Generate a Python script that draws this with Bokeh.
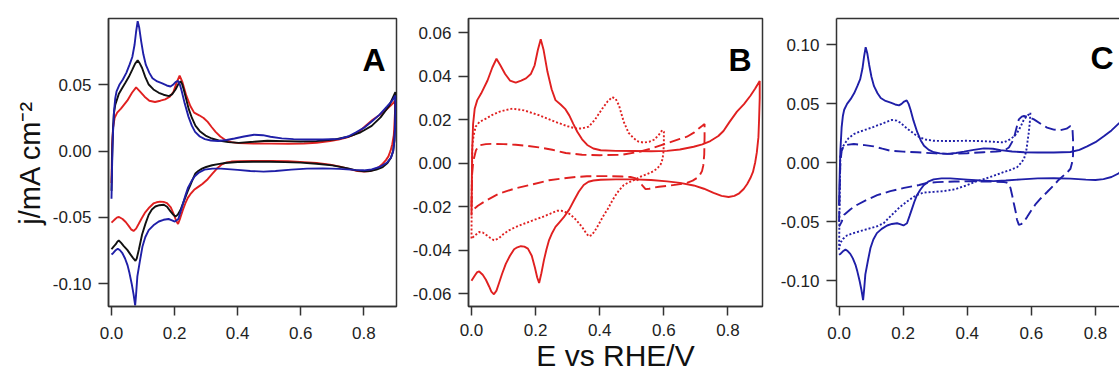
from bokeh.plotting import figure
from bokeh.layouts import row
from bokeh.models import Range1d, FixedTicker, NumeralTickFormatter, Label, LinearAxis
from bokeh.embed import file_html
from bokeh.resources import INLINE

FONT = "Liberation Sans"
RED = "#e02020"
BLUE = "#1f1fa8"
BLACK = "#111111"
LW = 1.9

# ---------------- data ----------------
x_ticks = [0.0, 0.2, 0.4, 0.6, 0.8]
yticks_A = [-0.10, -0.05, 0.0, 0.05]
yticks_B = [-0.06, -0.04, -0.02, 0.0, 0.02, 0.04, 0.06]
yticks_C = [-0.10, -0.05, 0.0, 0.05, 0.10]
panel_letters = ["A", "B", "C"]
x_label = "E vs RHE/V"
y_label = "j/mA cm\u207b\u00b2"

# red solid CV (0 - 0.9 V)
red_E = [0.000, 0.002, 0.005, 0.010, 0.018, 0.030, 0.050, 0.065, 0.078, 0.090, 0.105, 0.120, 0.138, 0.155,
         0.170, 0.185, 0.197, 0.207, 0.216, 0.225, 0.237, 0.250, 0.262, 0.278, 0.292, 0.305, 0.318, 0.330,
         0.345, 0.361, 0.380, 0.403, 0.450, 0.506, 0.560, 0.610, 0.650, 0.693, 0.720, 0.745, 0.770, 0.786,
         0.805, 0.828, 0.850, 0.870, 0.885, 0.899,
         0.899, 0.897, 0.895, 0.890, 0.885, 0.878, 0.870, 0.860, 0.849, 0.835, 0.820, 0.802, 0.780, 0.755,
         0.725, 0.693, 0.650, 0.610, 0.560, 0.506, 0.450, 0.403, 0.380, 0.365, 0.350, 0.335, 0.320, 0.305,
         0.288, 0.275, 0.262, 0.250, 0.242, 0.234, 0.226, 0.218, 0.211, 0.205, 0.198, 0.188, 0.176, 0.165,
         0.154, 0.143, 0.133, 0.120, 0.107, 0.095, 0.086, 0.078, 0.070, 0.062, 0.055, 0.045, 0.035, 0.024,
         0.018, 0.012, 0.005, 0.000]
red_j = [-0.024, 0.005, 0.018, 0.025, 0.029, 0.032, 0.038, 0.044, 0.048, 0.045, 0.041, 0.038, 0.037, 0.038,
         0.039, 0.041, 0.045, 0.052, 0.057, 0.052, 0.042, 0.034, 0.029, 0.027, 0.025, 0.022, 0.018, 0.0145,
         0.011, 0.0084, 0.0068, 0.0060, 0.0057, 0.0056, 0.0055, 0.0057, 0.0063, 0.0076, 0.0087, 0.0102, 0.0125, 0.0148,
         0.019, 0.0237, 0.0272, 0.031, 0.0343, 0.0378,
         0.030, 0.020, 0.012, 0.005, 0.0005, -0.004, -0.0068, -0.0095, -0.0118, -0.0138, -0.0150, -0.0155, -0.0150, -0.0136,
         -0.0117, -0.0102, -0.0090, -0.0083, -0.0077, -0.0074, -0.0074, -0.0076, -0.0079, -0.0085, -0.0100, -0.0130, -0.0170, -0.0212,
         -0.0248, -0.0270, -0.0292, -0.0325, -0.0353, -0.0395, -0.0445, -0.0505, -0.0550, -0.0525, -0.0480, -0.0425, -0.0392, -0.0383,
         -0.0381, -0.0386, -0.0395, -0.0425, -0.0462, -0.0510, -0.0550, -0.0585, -0.0602, -0.0590, -0.0566, -0.0535, -0.0512, -0.0497,
         -0.0500, -0.0512, -0.0528, -0.0540]

# red dotted CV (0 - 0.6 V)
red_dot_E = [0.000, 0.001, 0.003, 0.007, 0.013, 0.025, 0.045, 0.065, 0.086, 0.105, 0.128, 0.164, 0.210, 0.262,
             0.300, 0.325, 0.345, 0.366, 0.385, 0.408, 0.425, 0.439, 0.450, 0.460, 0.475, 0.490, 0.506, 0.520,
             0.537, 0.555, 0.569, 0.583, 0.595, 0.600,
             0.600, 0.599, 0.596, 0.590, 0.579, 0.563, 0.548, 0.527, 0.506, 0.490, 0.475, 0.460, 0.448, 0.439,
             0.425, 0.410, 0.397, 0.385, 0.375, 0.366, 0.357, 0.346, 0.335, 0.320, 0.305, 0.294, 0.280, 0.268,
             0.245, 0.219, 0.190, 0.160, 0.135, 0.117, 0.100, 0.085, 0.070, 0.058, 0.045, 0.035, 0.024, 0.012, 0.000]
red_dot_j = [-0.0346, -0.010, 0.0085, 0.0130, 0.0168, 0.0190, 0.0205, 0.0222, 0.0236, 0.0244, 0.0251, 0.0243, 0.0221, 0.0190,
             0.0170, 0.0160, 0.0160, 0.0168, 0.0200, 0.0251, 0.0285, 0.0304, 0.0295, 0.0266, 0.0190, 0.0140, 0.0115, 0.0100,
             0.0095, 0.0099, 0.0108, 0.0128, 0.0152, 0.0145,
             0.0100, 0.0055, 0.0020, -0.0005, -0.0025, -0.0040, -0.0050, -0.0062, -0.0078, -0.0088, -0.0100, -0.0125, -0.0150, -0.0172,
             -0.0210, -0.0245, -0.0280, -0.0310, -0.0330, -0.0336, -0.0320, -0.0295, -0.0275, -0.0250, -0.0232, -0.0225, -0.0218, -0.0218,
             -0.0232, -0.0248, -0.0263, -0.0280, -0.0295, -0.0308, -0.0325, -0.0345, -0.0354, -0.0342, -0.0328, -0.0318, -0.0316, -0.0330, -0.0346]

# red dashed CV (0 - 0.73 V)
red_dash_E = [0.000, 0.002, 0.005, 0.008, 0.014, 0.024, 0.045, 0.065, 0.100, 0.138, 0.175, 0.210, 0.252, 0.294,
              0.345, 0.400, 0.470, 0.527, 0.570, 0.610, 0.650, 0.672, 0.695, 0.709, 0.720, 0.727,
              0.727, 0.726, 0.723, 0.719, 0.712, 0.703, 0.690, 0.672, 0.640, 0.610, 0.585, 0.569, 0.555, 0.543,
              0.532, 0.522, 0.510, 0.496, 0.470, 0.430, 0.397, 0.360, 0.325, 0.285, 0.242, 0.190, 0.138, 0.086,
              0.045, 0.020, 0.008, 0.000]
red_dash_j = [-0.0200, -0.0050, 0.0000, 0.0024, 0.0060, 0.0082, 0.0088, 0.0089, 0.0088, 0.0085, 0.0080, 0.0073, 0.0062, 0.0047,
              0.0039, 0.0037, 0.0039, 0.0054, 0.0072, 0.0092, 0.0112, 0.0122, 0.0142, 0.0160, 0.0172, 0.0180,
              0.0120, 0.0040, -0.0010, -0.0036, -0.0055, -0.0068, -0.0080, -0.0090, -0.0098, -0.0104, -0.0108, -0.0112, -0.0117, -0.0119,
              -0.0100, -0.0081, -0.0068, -0.0063, -0.0061, -0.0059, -0.0059, -0.0060, -0.0063, -0.0070, -0.0078, -0.0097, -0.0115, -0.0139,
              -0.0172, -0.0195, -0.0210, -0.0220]

# black CV (panel A)
black_E = [0.000, 0.002, 0.004, 0.0074, 0.012, 0.023, 0.035, 0.044, 0.055, 0.066, 0.075, 0.083, 0.090, 0.097,
           0.107, 0.118, 0.133, 0.150, 0.165, 0.182, 0.193, 0.203, 0.212, 0.219, 0.224, 0.229, 0.237, 0.245,
           0.255, 0.266, 0.280, 0.298, 0.318, 0.340, 0.370, 0.404, 0.450, 0.494, 0.550, 0.600, 0.650, 0.705,
           0.750, 0.790, 0.825, 0.853, 0.880, 0.900,
           0.900, 0.899, 0.897, 0.893, 0.886, 0.875, 0.860, 0.840, 0.820, 0.800, 0.775, 0.750, 0.700, 0.650,
           0.600, 0.550, 0.500, 0.450, 0.400, 0.360, 0.338, 0.319, 0.300, 0.287, 0.275, 0.266, 0.258, 0.250,
           0.242, 0.235, 0.227, 0.219, 0.210, 0.203, 0.195, 0.187, 0.176, 0.166, 0.152, 0.139, 0.128, 0.118,
           0.108, 0.097, 0.087, 0.080, 0.076, 0.068, 0.060, 0.050, 0.039, 0.030, 0.023, 0.018, 0.013, 0.006, 0.000]
black_j = [-0.030, -0.005, 0.012, 0.028, 0.035, 0.043, 0.048, 0.0515, 0.056, 0.0614, 0.066, 0.0684, 0.066, 0.0627,
           0.056, 0.0502, 0.0465, 0.0440, 0.0425, 0.0415, 0.0430, 0.0465, 0.0505, 0.0527, 0.0505, 0.0465, 0.0390, 0.0316,
           0.0250, 0.0192, 0.0150, 0.0117, 0.0095, 0.0080, 0.0068, 0.0062, 0.0070, 0.0078, 0.0075, 0.0072, 0.0075, 0.0087,
           0.0108, 0.0142, 0.0190, 0.0254, 0.0340, 0.0445,
           0.032, 0.018, 0.008, 0.000, -0.005, -0.0090, -0.0120, -0.0140, -0.0150, -0.0153, -0.0145, -0.0130, -0.0108, -0.0095,
           -0.0087, -0.0083, -0.0080, -0.0080, -0.0082, -0.0090, -0.0098, -0.0107, -0.0120, -0.0132, -0.0150, -0.0169, -0.0210, -0.0256,
           -0.0300, -0.0343, -0.0393, -0.0443, -0.0480, -0.0493, -0.0478, -0.0455, -0.0420, -0.0405, -0.0408, -0.0418, -0.0440, -0.0480,
           -0.0545, -0.0629, -0.0740, -0.0810, -0.0828, -0.0805, -0.0779, -0.0745, -0.0716, -0.0690, -0.0674, -0.0685, -0.0704, -0.0722, -0.0740]

# blue solid CV (panels A and C)
blue_E = [0.000, 0.002, 0.004, 0.008, 0.012, 0.016, 0.025, 0.036, 0.047, 0.057, 0.066, 0.073, 0.078, 0.083,
          0.088, 0.094, 0.101, 0.109, 0.120, 0.130, 0.145, 0.161, 0.175, 0.187, 0.195, 0.203, 0.211, 0.217,
          0.223, 0.232, 0.244, 0.255, 0.265, 0.280, 0.296, 0.315, 0.338, 0.365, 0.390, 0.420, 0.452, 0.480,
          0.504, 0.540, 0.577, 0.620, 0.670, 0.722, 0.750, 0.774, 0.800, 0.826, 0.850, 0.873, 0.890, 0.900,
          0.900, 0.899, 0.897, 0.893, 0.886, 0.873, 0.850, 0.825, 0.800, 0.770, 0.722, 0.670, 0.620, 0.570,
          0.520, 0.482, 0.440, 0.400, 0.347, 0.320, 0.295, 0.278, 0.264, 0.253, 0.243, 0.235, 0.228, 0.220,
          0.212, 0.201, 0.190, 0.181, 0.165, 0.150, 0.133, 0.118, 0.107, 0.098, 0.090, 0.082, 0.078, 0.075,
          0.070, 0.064, 0.057, 0.051, 0.043, 0.035, 0.027, 0.020, 0.012, 0.005, 0.000]
blue_j = [-0.036, -0.010, 0.010, 0.030, 0.040, 0.045, 0.050, 0.054, 0.059, 0.065, 0.071, 0.080, 0.090, 0.098,
          0.093, 0.083, 0.073, 0.065, 0.059, 0.055, 0.0525, 0.051, 0.0495, 0.0487, 0.050, 0.052, 0.053, 0.050,
          0.045, 0.036, 0.026, 0.019, 0.0145, 0.011, 0.009, 0.0080, 0.0076, 0.0084, 0.0095, 0.0110, 0.0123, 0.0120,
          0.0108, 0.0096, 0.0090, 0.0088, 0.0088, 0.0092, 0.0110, 0.0140, 0.0175, 0.0225, 0.0275, 0.0335, 0.0380, 0.0420,
          0.030, 0.018, 0.008, 0.000, -0.005, -0.0088, -0.0120, -0.0138, -0.0145, -0.0142, -0.0134, -0.0130, -0.0132, -0.0140,
          -0.0150, -0.0155, -0.0150, -0.0142, -0.0132, -0.0132, -0.0140, -0.0160, -0.0190, -0.0230, -0.0274, -0.0330, -0.0386, -0.0450,
          -0.0512, -0.0531, -0.0520, -0.0512, -0.0518, -0.0531, -0.0560, -0.0596, -0.0650, -0.0722, -0.0830, -0.0945, -0.1080, -0.1164,
          -0.1080, -0.1000, -0.0920, -0.0862, -0.0810, -0.0772, -0.0748, -0.0736, -0.0750, -0.0770, -0.0780]

# blue dotted CV (0 - 0.6 V)
blue_dot_E = [0.000, 0.002, 0.004, 0.010, 0.020, 0.030, 0.046, 0.065, 0.087, 0.108, 0.129, 0.148, 0.165, 0.180,
              0.191, 0.205, 0.222, 0.237, 0.253, 0.270, 0.295, 0.340, 0.399, 0.440, 0.482, 0.514, 0.535, 0.548,
              0.556, 0.567, 0.577, 0.588, 0.597,
              0.595, 0.592, 0.588, 0.585, 0.581, 0.577, 0.568, 0.556, 0.535, 0.514, 0.482, 0.455, 0.431, 0.399,
              0.360, 0.326, 0.295, 0.264, 0.248, 0.233, 0.212, 0.191, 0.165, 0.139, 0.118, 0.098, 0.076, 0.056,
              0.040, 0.025, 0.012, 0.004, 0.000]
blue_dot_j = [-0.0736, -0.030, 0.006, 0.0130, 0.0173, 0.0210, 0.0243, 0.0265, 0.0285, 0.0305, 0.0327, 0.0348, 0.0364, 0.0358,
              0.0341, 0.0308, 0.0271, 0.0240, 0.0215, 0.0198, 0.0187, 0.0185, 0.0187, 0.0185, 0.0179, 0.0173, 0.0201, 0.0230,
              0.0257, 0.0310, 0.0369, 0.0400, 0.0425,
              0.0340, 0.0257, 0.0180, 0.0117, 0.0070, 0.0034, 0.0000, -0.0036, -0.0060, -0.0078, -0.0110, -0.0135, -0.0155, -0.0190,
              -0.0225, -0.0240, -0.0246, -0.0252, -0.0268, -0.0288, -0.0328, -0.0372, -0.0440, -0.0512, -0.0538, -0.0554, -0.0571, -0.0587,
              -0.0600, -0.0615, -0.0645, -0.0680, -0.0736]

# blue dashed CV (0 - 0.73 V)
blue_dash_E = [0.000, 0.002, 0.004, 0.008, 0.015, 0.030, 0.046, 0.080, 0.108, 0.135, 0.160, 0.200, 0.243, 0.300,
               0.347, 0.400, 0.451, 0.490, 0.514, 0.530, 0.545, 0.553, 0.561, 0.570, 0.577, 0.590, 0.608, 0.630,
               0.649, 0.670, 0.691, 0.710, 0.722, 0.728,
               0.730, 0.730, 0.727, 0.722, 0.712, 0.701, 0.685, 0.670, 0.650, 0.629, 0.612, 0.597, 0.587, 0.577,
               0.568, 0.561, 0.555, 0.551, 0.545, 0.540, 0.535, 0.530, 0.520, 0.514, 0.460, 0.410, 0.360, 0.306,
               0.274, 0.250, 0.203, 0.160, 0.119, 0.085, 0.057, 0.035, 0.016, 0.008, 0.003, 0.000]
blue_dash_j = [-0.0500, -0.0200, 0.0000, 0.0100, 0.0145, 0.0155, 0.0160, 0.0150, 0.0140, 0.0120, 0.0103, 0.0095, 0.0090, 0.0080,
               0.0076, 0.0082, 0.0090, 0.0096, 0.0103, 0.0130, 0.0201, 0.0290, 0.0369, 0.0392, 0.0397, 0.0390, 0.0369, 0.0330,
               0.0299, 0.0282, 0.0277, 0.0290, 0.0313, 0.0300,
               0.0200, 0.0062, 0.0000, -0.0050, -0.0080, -0.0106, -0.0145, -0.0190, -0.0245, -0.0302, -0.0355, -0.0414, -0.0458, -0.0498,
               -0.0520, -0.0526, -0.0480, -0.0414, -0.0340, -0.0274, -0.0215, -0.0176, -0.0165, -0.0162, -0.0158, -0.0157, -0.0158, -0.0163,
               -0.0171, -0.0188, -0.0212, -0.0240, -0.0274, -0.0315, -0.0355, -0.0395, -0.0440, -0.0500, -0.0526, -0.0540]


def style_fig(p, yticks, yfmt):
    p.grid.visible = False
    p.background_fill_color = "white"
    p.border_fill_color = "white"
    p.outline_line_color = "#333333"
    p.outline_line_width = 1.5
    p.outline_line_alpha = 1.0
    for ax in p.axis:
        ax.axis_line_color = "#333333"
        ax.axis_line_width = 1.5
        ax.major_tick_line_color = "#333333"
        ax.major_tick_line_width = 1.5
        ax.major_tick_in = 0
        ax.minor_tick_line_color = None
        ax.major_label_text_font = FONT
        ax.major_label_text_font_size = "17px"
        ax.major_label_text_color = "#222222"
    p.xaxis.ticker = FixedTicker(ticks=x_ticks)
    p.xaxis.formatter = NumeralTickFormatter(format="0.0")
    p.xaxis.major_tick_out = 9
    p.xaxis.major_label_standoff = 11
    p.yaxis.ticker = FixedTicker(ticks=yticks)
    p.yaxis.formatter = NumeralTickFormatter(format=yfmt)
    p.yaxis.major_tick_out = 10
    p.yaxis.major_label_standoff = 7


def letter(p, text, x, y):
    p.add_layout(Label(x=x, y=y, text=text, text_font=FONT, text_font_style="bold",
                       text_font_size="32px", text_align="right", text_baseline="alphabetic",
                       text_color="#000000"))


# ---------------- panel A ----------------
pA = figure(width=405, height=375, x_range=Range1d(-0.0095, 0.9036), y_range=Range1d(-0.1172, 0.1000),
            output_backend="svg", toolbar_location=None,
            min_border_left=108, min_border_right=9, min_border_top=15, min_border_bottom=69)
style_fig(pA, yticks_A, "0.00")
pA.yaxis.axis_label = y_label
pA.yaxis.axis_label_text_font = FONT
pA.yaxis.axis_label_text_font_style = "normal"
pA.yaxis.axis_label_text_font_size = "29px"
pA.yaxis.axis_label_text_color = "#111111"
pA.yaxis.axis_label_standoff = 4
pA.line(red_E, red_j, line_color=RED, line_width=LW)
pA.line(black_E, black_j, line_color=BLACK, line_width=LW)
pA.line(blue_E, blue_j, line_color=BLUE, line_width=LW)
letter(pA, panel_letters[0], 0.869, 0.0689)

# ---------------- panel B ----------------
pB = figure(width=370, height=375, x_range=Range1d(-0.0093, 0.9077), y_range=Range1d(-0.0658, 0.0665),
            output_backend="svg", toolbar_location=None,
            min_border_left=63, min_border_right=13, min_border_top=15, min_border_bottom=68)
style_fig(pB, yticks_B, "0.00")
pB.xaxis.major_label_standoff = 8
pB.xaxis.axis_label = x_label
pB.xaxis.axis_label_text_font = FONT
pB.xaxis.axis_label_text_font_style = "normal"
pB.xaxis.axis_label_text_font_size = "30px"
pB.xaxis.axis_label_text_color = "#111111"
pB.xaxis.axis_label_standoff = 0
pB.line(red_E, red_j, line_color=RED, line_width=LW)
pB.line(red_dot_E, red_dot_j, line_color=RED, line_width=LW, line_dash="2 2")
pB.line(red_dash_E, red_dash_j, line_color=RED, line_width=LW, line_dash="11 5")
letter(pB, panel_letters[1], 0.874, 0.0474)

# ---------------- panel C ----------------
pC = figure(width=344, height=375, x_range=Range1d(-0.008, 0.875), y_range=Range1d(-0.1218, 0.1224),
            output_backend="svg", toolbar_location=None,
            min_border_left=61, min_border_right=0, min_border_top=18, min_border_bottom=66)
style_fig(pC, yticks_C, "0.00")
pC.outline_line_color = None
top_axis = LinearAxis(ticker=FixedTicker(ticks=[]), axis_line_color="#333333", axis_line_width=1.5,
                      major_tick_out=0, major_tick_in=0, minor_tick_out=0, minor_tick_in=0,
                      major_label_text_font_size="0px", major_label_standoff=0)
pC.add_layout(top_axis, "above")
pC.line(blue_E, blue_j, line_color=BLUE, line_width=LW)
pC.line(blue_dot_E, blue_dot_j, line_color=BLUE, line_width=LW, line_dash="2 2")
pC.line(blue_dash_E, blue_dash_j, line_color=BLUE, line_width=LW, line_dash="11 5")
letter(pC, panel_letters[2], 0.857, 0.0891)

layout = row(pA, pB, pC, spacing=0)
open("out.html", "w").write(file_html(layout, INLINE))
